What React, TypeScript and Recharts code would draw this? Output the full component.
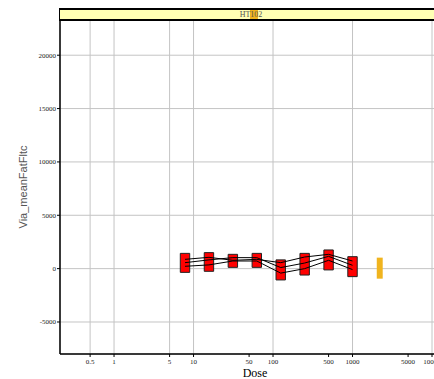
import { ComposedChart, XAxis, YAxis, CartesianGrid, ReferenceArea, ReferenceLine } from 'recharts'

// dilution series (x) and the three replicate traces
const doses = [7.8125, 15.625, 31.25, 62.5, 125, 250, 500, 1000]
const rep1 = [870, 1060, 780, 870, 560, 1090, 1340, 715]
const rep2 = [560, 820, 1030, 1030, 100, 525, 1150, 310]
const rep3 = [220, 350, 715, 715, -420, 0, 780, -90]
// box extent per dose
const boxLow = [-350, -250, 120, 120, -1060, -600, -120, -750]
const boxHigh = [1430, 1500, 1340, 1430, 820, 1430, 1750, 1120]

// control well
const controlDose = 2200
const controlLow = -940
const controlHigh = 1030

const xTicks = [0.5, 1, 5, 10, 50, 100, 500, 1000, 5000, 10000]
const yTicks = [-5000, 0, 5000, 10000, 15000, 20000]
const panelTitle = 'HT102'

const BOX_HALF = 1.146 // half width as a factor on the log axis
const CTRL_HALF = 1.09

const tickStyle = { fontSize: 7, fontFamily: '"Liberation Serif", "DejaVu Serif", serif', fill: '#222' }

export default function App() {
  const data = doses.map((d, i) => ({ dose: d, r1: rep1[i], r2: rep2[i], r3: rep3[i] }))

  // traces drawn as segments so they sit on top of the boxes
  const segments: { key: string; pts: { x: number; y: number }[] }[] = []
  ;[rep1, rep2, rep3].forEach((rep, r) => {
    for (let i = 0; i < doses.length - 1; i++) {
      segments.push({ key: `s${r}-${i}`, pts: [{ x: doses[i], y: rep[i] }, { x: doses[i + 1], y: rep[i + 1] }] })
    }
  })

  return (
    <div style={{ position: 'absolute', left: 0, top: 0, width: 434, height: 379, overflow: 'hidden', background: '#fff' }}>
      <ComposedChart width={450} height={379} data={data} margin={{ top: 20, right: 0, left: 0, bottom: 0 }}>
        <CartesianGrid stroke="#c4c4c4" strokeWidth={1} />
        <XAxis
          dataKey="dose"
          type="number"
          scale="log"
          domain={[0.209, 16840]}
          allowDataOverflow
          ticks={xTicks}
          tick={tickStyle}
          tickSize={3}
          tickMargin={2}
          height={25}
          axisLine={{ stroke: '#000', strokeWidth: 1.5 }}
          tickLine={{ stroke: '#000' }}
          label={{ value: 'Dose', position: 'insideBottom', offset: 2, style: { fontSize: 12, fontFamily: '"Liberation Serif", serif', fill: '#000' } }}
        />
        <YAxis
          type="number"
          domain={[-8000, 23300]}
          allowDataOverflow
          ticks={yTicks}
          tick={tickStyle}
          tickSize={3}
          tickMargin={1}
          width={60}
          axisLine={{ stroke: '#000', strokeWidth: 1.5 }}
          tickLine={{ stroke: '#000' }}
          label={{ value: 'Via_meanFatFltc', angle: -90, position: 'insideLeft', offset: 23, style: { textAnchor: 'middle', fontSize: 11, fontFamily: '"Liberation Sans", Arial, sans-serif', fill: '#555' } }}
        />
        {doses.map((d, i) => (
          <ReferenceArea
            key={d}
            x1={d / BOX_HALF}
            x2={d * BOX_HALF}
            y1={boxLow[i]}
            y2={boxHigh[i]}
            fill="#ff0000"
            fillOpacity={1}
            stroke="#222"
            strokeWidth={1}
            ifOverflow="visible"
          />
        ))}
        <ReferenceArea
          x1={controlDose / CTRL_HALF}
          x2={controlDose * CTRL_HALF}
          y1={controlLow}
          y2={controlHigh}
          fill="#f0b41e"
          fillOpacity={1}
          stroke="none"
          ifOverflow="visible"
        />
        {segments.map(s => (
          <ReferenceLine key={s.key} segment={s.pts} stroke="#000" strokeWidth={1} ifOverflow="visible" />
        ))}
      </ComposedChart>
      {/* strip header above the panel */}
      <div style={{ position: 'absolute', left: 59, top: 8, width: 400, height: 9, background: '#ffffb4', borderTop: '2px solid #000', borderBottom: '2px solid #000', borderLeft: '1px solid #000' }}>
        <div style={{ position: 'absolute', left: 190, top: 0, width: 8, height: 9, background: '#f0b41e' }} />
        <div style={{ position: 'absolute', left: 0, top: 0, width: 382, height: 9, textAlign: 'center', fontSize: 8, lineHeight: '9px', fontFamily: '"Liberation Serif", serif', color: '#555' }}>{panelTitle}</div>
      </div>
    </div>
  )
}
